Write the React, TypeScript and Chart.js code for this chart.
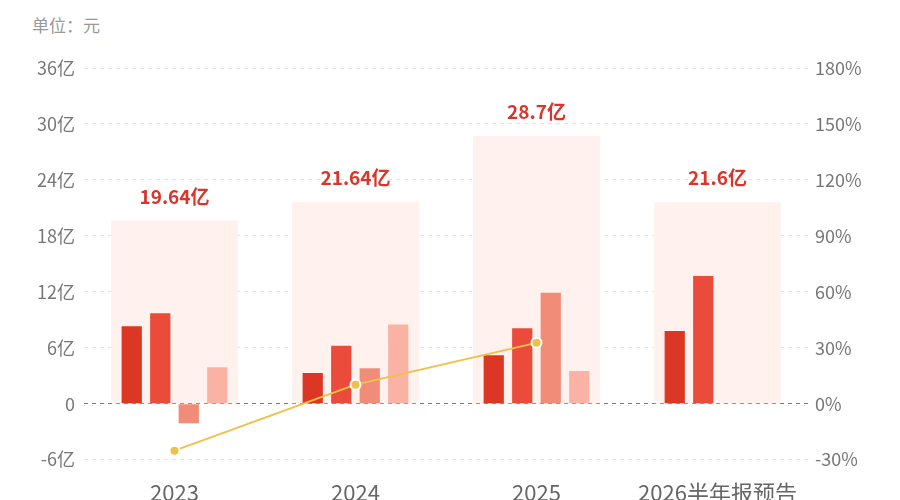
import React, { useEffect, useRef } from "react";
import { Chart, registerables } from "chart.js";

Chart.register(...registerables);

const categories = ["2023", "2024", "2025", "2026半年报预告"];
const totals = [19.64, 21.64, 28.7, 21.6];
const totalLabels = ["19.64亿", "21.64亿", "28.7亿", "21.6亿"];
const q1 = [8.3, 3.3, 5.2, 7.8];
const q2 = [9.7, 6.2, 8.1, 13.7];
const q3 = [-2.1, 3.8, 11.9, null];
const q4 = [3.9, 8.5, 3.5, null];
const growth = [-25.2, 10.2, 32.6, null];
const leftTicks = [-6, 0, 6, 12, 18, 24, 30, 36];
const rightTicks = [-30, 0, 30, 60, 90, 120, 150, 180];

const FONT = '"Noto Sans CJK SC", "Noto Sans", sans-serif';

const totalLabelPlugin = {
  id: "totalLabels",
  afterDatasetsDraw(chart: any) {
    const meta = chart.getDatasetMeta(0);
    const ctx = chart.ctx;
    ctx.save();
    ctx.font = `bold 19px ${FONT}`;
    ctx.fillStyle = "#D9352A";
    ctx.textAlign = "center";
    ctx.textBaseline = "middle";
    meta.data.forEach((el: any, i: number) => {
      ctx.fillText(totalLabels[i], el.x, el.y - 24);
    });
    ctx.restore();
  },
};

export default function App() {
  const ref = useRef<HTMLCanvasElement>(null);
  useEffect(() => {
    if (!ref.current) return;
    const quarterOpts = { xAxisID: "x", yAxisID: "y", barPercentage: 0.71, categoryPercentage: 0.63, order: 5 };
    const chart = new Chart(ref.current, {
      type: "bar",
      data: {
        labels: categories,
        datasets: [
          {
            type: "bar",
            label: "total",
            data: totals,
            xAxisID: "x",
            yAxisID: "y",
            backgroundColor: "#FFF1ED",
            grouped: false,
            barPercentage: 1,
            categoryPercentage: 0.7,
            order: 10,
          } as any,
          { type: "bar", label: "Q1", data: q1, backgroundColor: "#DC3724", ...quarterOpts },
          { type: "bar", label: "Q2", data: q2, backgroundColor: "#EB4B3B", ...quarterOpts },
          { type: "bar", label: "Q3", data: q3, backgroundColor: "#F08C78", ...quarterOpts },
          { type: "bar", label: "Q4", data: q4, backgroundColor: "#FAB2A4", ...quarterOpts },
          {
            type: "line",
            label: "growth",
            data: growth,
            xAxisID: "x",
            yAxisID: "y1",
            borderColor: "#F0C048",
            borderWidth: 2,
            pointRadius: 5,
            pointBackgroundColor: "#F0C048",
            pointBorderColor: "#FFFFFF",
            pointBorderWidth: 2,
            spanGaps: false,
            order: 0,
          } as any,
        ],
      },
      options: {
        responsive: false,
        animation: false,
        layout: { padding: { top: 68, bottom: 0, left: 0, right: 0 } },
        plugins: { legend: { display: false }, tooltip: { enabled: false }, title: { display: false } },
        scales: {
          x: {
            type: "category",
            offset: true,
            grid: { display: false, drawTicks: false },
            border: { display: false },
            ticks: { color: "#666", font: { size: 22, family: FONT }, padding: 20, maxRotation: 0, autoSkip: false },
          },
          y: {
            position: "left",
            min: -6,
            max: 36,
            afterFit: (s: any) => { s.width = 84; },
            afterBuildTicks: (s: any) => { s.ticks = leftTicks.map((v) => ({ value: v })); },
            ticks: {
              color: "#777",
              font: { size: 18, family: FONT },
              padding: 9,
              callback: (v: any) => (Number(v) === 0 ? "0" : `${v}亿`),
            },
            grid: {
              drawTicks: false,
              color: (c: any) => (c.tick && c.tick.value === 0 ? "#777" : "#E2E2E2"),
              lineWidth: 1,
            },
            border: { display: false, dash: [4, 4] },
          },
          y1: {
            position: "right",
            min: -30,
            max: 180,
            afterFit: (s: any) => { s.width = 92; },
            afterBuildTicks: (s: any) => { s.ticks = rightTicks.map((v) => ({ value: v })); },
            ticks: {
              color: "#777",
              font: { size: 18, family: FONT },
              padding: 7,
              callback: (v: any) => `${v}%`,
            },
            grid: { display: false, drawTicks: false },
            border: { display: false },
          },
        },
      },
      plugins: [totalLabelPlugin],
    });
    return () => chart.destroy();
  }, []);
  return (
    <div style={{ position: "fixed", left: 0, top: 0, width: 900, height: 500, overflow: "hidden", background: "#fff" }}>
      <div style={{ position: "absolute", left: 32, top: 12, fontSize: 17, color: "#999", fontFamily: FONT }}>单位：元</div>
      <canvas ref={ref} width={900} height={526} style={{ position: "absolute", left: 0, top: 0 }} />
    </div>
  );
}
